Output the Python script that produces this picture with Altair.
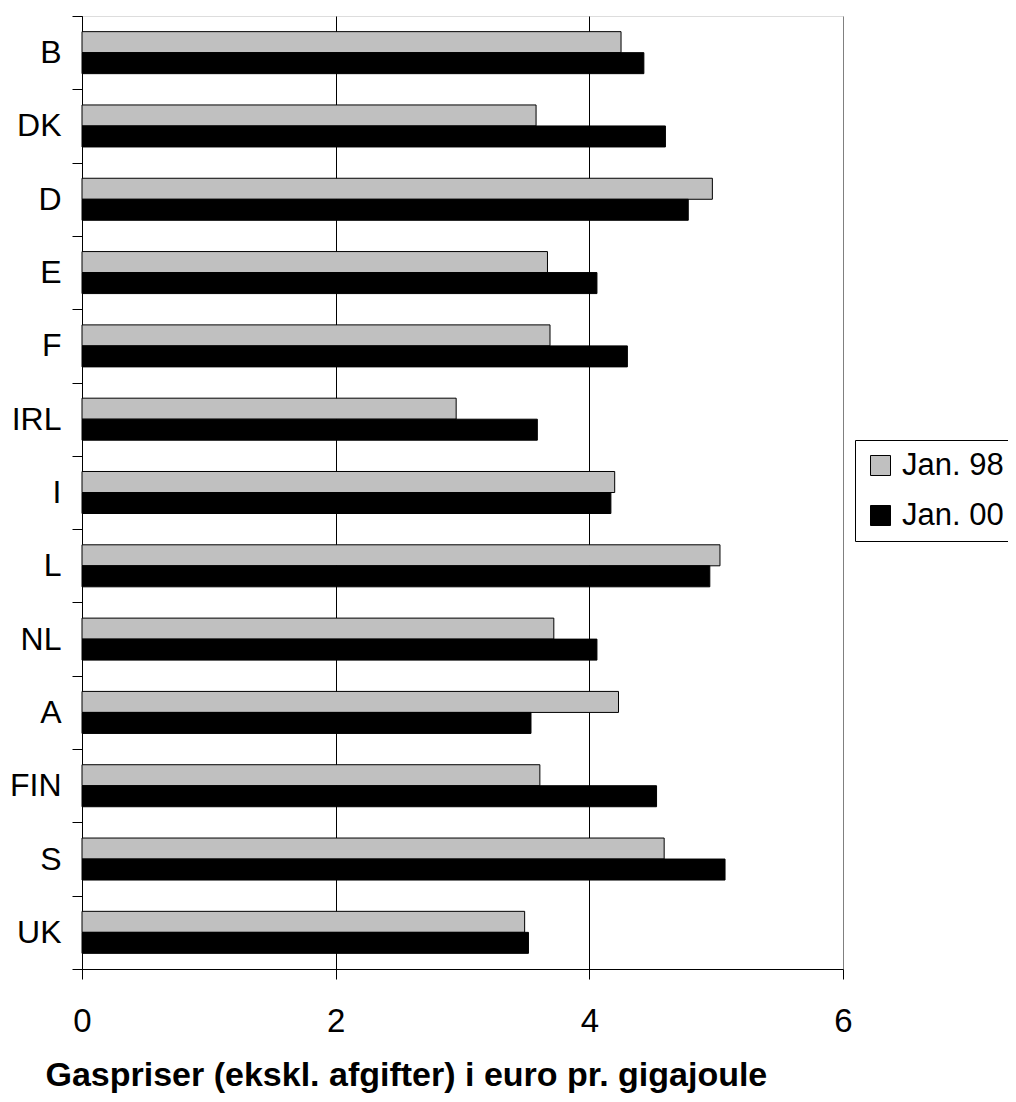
import altair as alt
import pandas as pd

countries = ["B", "DK", "D", "E", "F", "IRL", "I", "L", "NL", "A", "FIN", "S", "UK"]
jan98 = [4.25, 3.58, 4.97, 3.67, 3.69, 2.95, 4.20, 5.03, 3.72, 4.23, 3.61, 4.59, 3.49]
jan00 = [4.43, 4.60, 4.78, 4.06, 4.30, 3.59, 4.17, 4.95, 4.06, 3.54, 4.53, 5.07, 3.52]
series = ["Jan. 98", "Jan. 00"]
x_ticks = [0, 2, 4, 6]

rows = []
for c, a, b in zip(countries, jan98, jan00):
    rows.append({"land": c, "serie": series[0], "pris": a})
    rows.append({"land": c, "serie": series[1], "pris": b})
df = pd.DataFrame(rows)

FONT = "Liberation Sans"

bars = alt.Chart(df).mark_bar(stroke="black", strokeWidth=1).encode(
    x=alt.X(
        "pris:Q",
        scale=alt.Scale(domain=[0, 6], nice=False),
        axis=alt.Axis(
            values=x_ticks,
            title="Gaspriser (ekskl. afgifter) i euro pr. gigajoule",
            titleFont=FONT,
            titleFontSize=34,
            titleFontWeight="bold",
            titleColor="black",
            titlePadding=20,
            titleAnchor="start",
            titleX=-37,
            labelFont=FONT,
            labelFontSize=33,
            labelColor="black",
            labelPadding=26,
            labelFlush=False,
            tickSize=10,
            tickColor="black",
            domainColor="black",
            grid=True,
            gridColor=alt.condition("datum.value == 6", alt.value("#808080"), alt.value("black")),
            gridWidth=1,
        ),
    ),
    y=alt.Y(
        "land:N",
        sort=countries,
        scale=alt.Scale(paddingInner=0, paddingOuter=0),
        axis=alt.Axis(
            title=None,
            labelFont=FONT,
            labelFontSize=32,
            labelColor="black",
            labelPadding=11,
            tickBand="extent",
            tickSize=10,
            tickColor="black",
            domainColor="black",
        ),
    ),
    yOffset=alt.YOffset(
        "serie:N",
        sort=series,
        scale=alt.Scale(paddingOuter=0.745, paddingInner=0),
    ),
    color=alt.Color(
        "serie:N",
        sort=series,
        scale=alt.Scale(domain=series, range=["#C0C0C0", "#000000"]),
        legend=alt.Legend(
            title=None,
            orient="none",
            legendX=773,
            legendY=424,
            strokeColor="black",
            fillColor="white",
            padding=10,
            symbolType="square",
            symbolSize=400,
            symbolStrokeColor="black",
            symbolStrokeWidth=1,
            labelFont=FONT,
            labelFontSize=31,
            labelColor="black",
            rowPadding=18,
            labelOffset=6,
        ),
    ),
)

chart = bars.properties(
    width=761,
    height=953,
    autosize=alt.AutoSizeParams(type="none"),
    padding={"left": 74, "top": 8, "right": 165, "bottom": 125},
).configure_view(
    stroke="#808080", strokeWidth=1
).configure(background="white")

chart.save("out.html", embed_options={"renderer": "svg", "actions": False})
